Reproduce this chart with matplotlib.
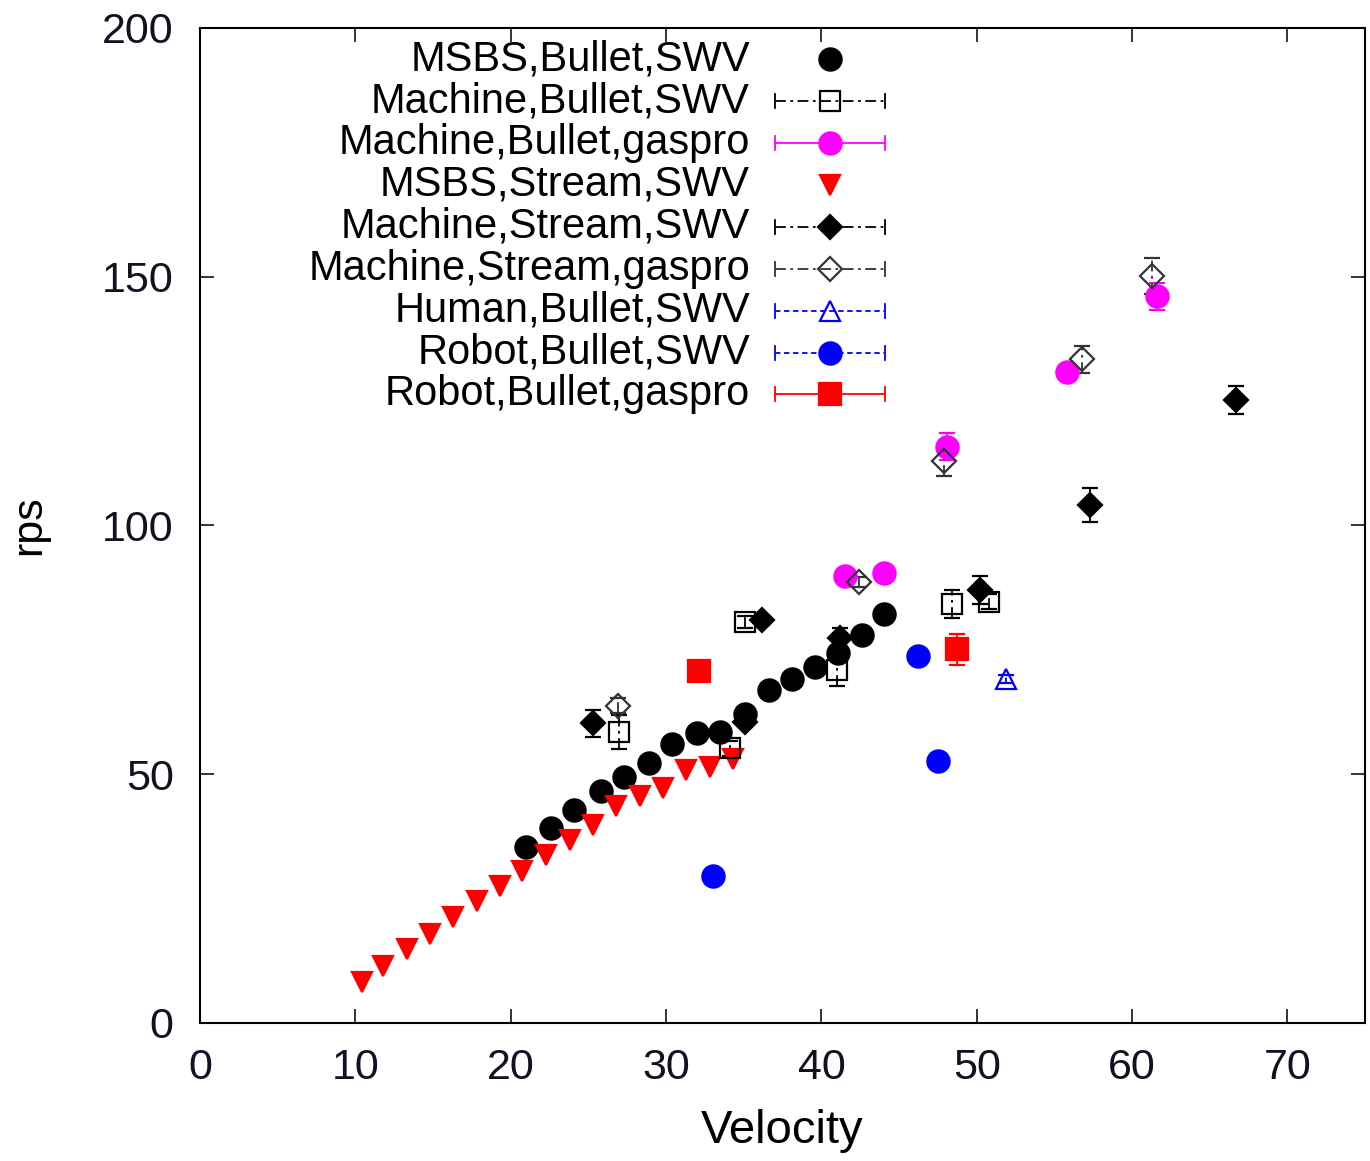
import numpy as np
import matplotlib
matplotlib.use("Agg")
import matplotlib.pyplot as plt

plt.rcParams.update({
    "font.family": ["Liberation Sans", "DejaVu Sans"],
    "font.size": 30,
    "axes.linewidth": 1.5,
})

# ---- data --------------------------------------------------------------
msbs_bullet_x = [21.0, 22.6, 24.1, 25.8, 27.3, 28.9, 30.4, 32.0, 33.5, 35.1,
                 36.6, 38.1, 39.6, 41.1, 42.6, 44.0]
msbs_bullet_y = [35.4, 39.1, 42.8, 46.6, 49.4, 52.3, 56.0, 58.2, 58.4, 62.1,
                 66.9, 69.1, 71.6, 74.3, 77.9, 82.2]

mach_bullet_swv_x = [27.0, 35.1, 34.1, 41.0, 48.4, 50.8]
mach_bullet_swv_y = [58.5, 80.6, 55.2, 71.0, 84.2, 84.7]
mach_bullet_swv_e = [3.5, 1.2, 1.5, 3.2, 2.9, 1.5]

mach_bullet_gas_x = [41.5, 44.0, 48.1, 55.8, 61.6]
mach_bullet_gas_y = [89.8, 90.5, 115.8, 130.9, 146.1]
mach_bullet_gas_e = [0.8, 0.8, 2.7, 1.0, 2.7]

msbs_stream_x = [10.4, 11.8, 13.3, 14.8, 16.3, 17.8, 19.3, 20.7, 22.3, 23.8,
                 25.3, 26.8, 28.3, 29.8, 31.3, 32.8, 34.3]
msbs_stream_y = [8.2, 11.5, 14.9, 17.9, 21.3, 24.5, 27.5, 30.6, 33.8, 36.8,
                 39.8, 43.6, 45.6, 47.2, 50.9, 51.5, 53.1]

mach_stream_swv_x = [25.3, 36.2, 35.1, 41.2, 50.2, 57.3, 66.7]
mach_stream_swv_y = [60.2, 80.9, 60.5, 77.3, 87.0, 104.1, 125.2]
mach_stream_swv_e = [2.8, 1.0, 1.0, 2.0, 2.8, 3.4, 2.8]

mach_stream_gas_x = [26.9, 42.4, 47.9, 56.8, 61.3]
mach_stream_gas_y = [63.8, 88.7, 113.0, 133.4, 150.2]
mach_stream_gas_e = [1.5, 1.0, 3.0, 2.7, 3.6]

human_bullet_x = [51.9]
human_bullet_y = [69.1]
human_bullet_e = [0.8]

robot_bullet_swv_x = [33.0, 46.2, 47.5]
robot_bullet_swv_y = [29.6, 73.8, 52.7]
robot_bullet_swv_e = [0.5, 0.5, 0.5]

robot_bullet_gas_x = [32.1, 48.7]
robot_bullet_gas_y = [70.8, 75.1]
robot_bullet_gas_e = [0.8, 3.1]

DASHDOT = (0, (6, 2.5, 1.5, 2.5))
DASHED = (0, (3, 2))

# label, x, y, yerr, color, marker, size, filled, linestyle
series = [
    ("MSBS,Bullet,SWV", msbs_bullet_x, msbs_bullet_y, None,
     "black", "o", 16, True, None),
    ("Machine,Bullet,SWV", mach_bullet_swv_x, mach_bullet_swv_y, mach_bullet_swv_e,
     "black", "s", 15, False, DASHDOT),
    ("Machine,Bullet,gaspro", mach_bullet_gas_x, mach_bullet_gas_y, mach_bullet_gas_e,
     "#ff00ff", "o", 16, True, "-"),
    ("MSBS,Stream,SWV", msbs_stream_x, msbs_stream_y, None,
     "#ff0000", "v", 15, True, None),
    ("Machine,Stream,SWV", mach_stream_swv_x, mach_stream_swv_y, mach_stream_swv_e,
     "black", "D", 12, True, DASHDOT),
    ("Machine,Stream,gaspro", mach_stream_gas_x, mach_stream_gas_y, mach_stream_gas_e,
     "#333333", "D", 12, False, DASHDOT),
    ("Human,Bullet,SWV", human_bullet_x, human_bullet_y, human_bullet_e,
     "#0000ff", "^", 14, False, DASHED),
    ("Robot,Bullet,SWV", robot_bullet_swv_x, robot_bullet_swv_y, robot_bullet_swv_e,
     "#0000ff", "o", 16, True, DASHED),
    ("Robot,Bullet,gaspro", robot_bullet_gas_x, robot_bullet_gas_y, robot_bullet_gas_e,
     "#ff0000", "s", 16, True, "-"),
]

fig = plt.figure(figsize=(13.7, 11.61), dpi=100)
ax = fig.add_axes([0.146, 0.1189, 0.8504, 0.857])

for label, x, y, yerr, color, marker, ms, filled, ls in series:
    mfc = color if filled else "none"
    if yerr is None:
        ax.plot(x, y, ls="none", marker=marker, ms=ms, color=color,
                mfc=mfc, mec=color, mew=1.6)
    else:
        cont = ax.errorbar(x, y, yerr=yerr, fmt=marker, ms=ms, color=color,
                           mfc=mfc, mec=color, mew=1.6, elinewidth=1.3,
                           capsize=6, capthick=1.3)
        for bar in cont[2]:
            bar.set_linestyle(ls)

# key in the upper-left, text right-aligned with sample to its right
key_text_x = 0.472
key_x0, key_x1, key_xm = 0.4936, 0.588, 0.5408
key_y0, key_dy = 0.9685, 0.0421
cap = 0.007
for i, (label, x, y, yerr, color, marker, ms, filled, ls) in enumerate(series):
    ky = key_y0 - i * key_dy
    ax.text(key_text_x, ky, label, transform=ax.transAxes, ha="right",
            va="center", fontsize=30)
    if yerr is not None:
        ax.plot([key_x0, key_x1], [ky, ky], transform=ax.transAxes,
                color=color, lw=1.3, ls=ls, clip_on=False)
        for cx in (key_x0, key_x1):
            ax.plot([cx, cx], [ky - cap, ky + cap], transform=ax.transAxes,
                    color=color, lw=1.3, clip_on=False)
    ax.plot([key_xm], [ky], transform=ax.transAxes, ls="none", marker=marker,
            ms=ms, color=color, mfc=color if filled else "none", mec=color,
            mew=1.6, clip_on=False)

ax.set_xlim(0, 75)
ax.set_ylim(0, 200)
ax.set_xticks(np.arange(0, 71, 10))
ax.set_yticks(np.arange(0, 201, 50))
ax.tick_params(direction="in", length=10, width=1.2, top=True, right=True,
               labelsize=31, colors="#111122")
ax.tick_params(axis="y", pad=19)
ax.tick_params(axis="x", pad=18)
ax.set_xlabel("Velocity", fontsize=34, labelpad=15)
ax.set_ylabel("rps", fontsize=31, labelpad=38)

fig.savefig("out.png", dpi=100)
